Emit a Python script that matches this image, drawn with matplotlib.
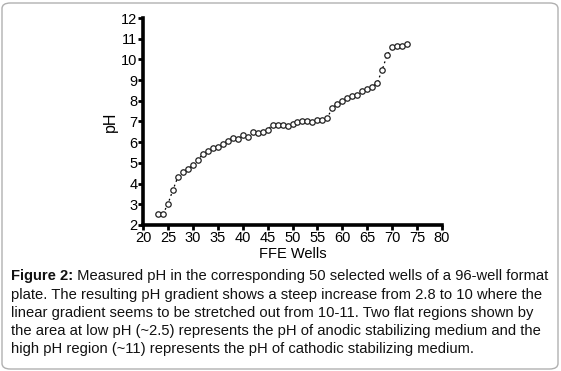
import numpy as np
import matplotlib
matplotlib.use("Agg")
import matplotlib.pyplot as plt
from matplotlib.patches import FancyBboxPatch

# FFE well numbers and measured pH
wells = list(range(23, 74))
ph = [2.52, 2.52, 3.02, 3.69, 4.32, 4.55, 4.71, 4.90, 5.14, 5.42,
      5.58, 5.71, 5.79, 5.92, 6.08, 6.21, 6.16, 6.35, 6.26, 6.51,
      6.45, 6.48, 6.60, 6.84, 6.85, 6.82, 6.79, 6.87, 6.97, 7.02,
      7.00, 6.98, 7.05, 7.08, 7.19, 7.65, 7.85, 8.00, 8.13, 8.21,
      8.29, 8.45, 8.56, 8.69, 8.86, 9.50, 10.22, 10.60, 10.66, 10.67,
      10.74]

x_ticks = list(range(20, 81, 5))
y_ticks = list(range(2, 13))

caption_head = "Figure 2:"
caption_first = " Measured pH in the corresponding 50 selected wells of a 96-well format"
caption_rest = ("plate. The resulting pH gradient shows a steep increase from 2.8 to 10 where the\n"
                "linear gradient seems to be stretched out from 10-11. Two flat regions shown by\n"
                "the area at low pH (~2.5) represents the pH of anodic stabilizing medium and the\n"
                "high pH region (~11) represents the pH of cathodic stabilizing medium.")

plt.rcParams['font.family'] = ['Liberation Sans', 'DejaVu Sans']

fig = plt.figure(figsize=(5.61, 3.71), dpi=100)
W, H = 561, 371
ax = fig.add_axes([143 / W, 1 - 225 / H, (442 - 143) / W, (225 - 18) / H])

ax.plot(wells, ph, linestyle=(0, (1.5, 2.5)), color='black', linewidth=0.9,
        marker='o', markersize=3.9, markerfacecolor='white',
        markeredgecolor='#222222', markeredgewidth=0.9)

ax.set_xlim(20, 80)
ax.set_ylim(2, 12)
ax.set_xticks(x_ticks)
ax.set_yticks(y_ticks)
for s in ['top', 'right']:
    ax.spines[s].set_visible(False)
for s in ['left', 'bottom']:
    ax.spines[s].set_linewidth(2.6)
ax.tick_params(axis='both', direction='out', length=3.5, width=2, labelsize=10.5, pad=0.5)
ax.set_xlabel('FFE Wells', fontsize=10.5, labelpad=2)
ax.set_ylabel('pH', fontsize=11.5, labelpad=2)

# caption below the chart
fs = 10.6
y0 = 1 - 269 / H
head = fig.text(11 / W, y0, caption_head, fontsize=fs, fontweight='bold',
                va='top', ha='left', color='#111111')
fig.canvas.draw()
bb = head.get_window_extent().transformed(fig.transFigure.inverted())
fig.text(bb.x1, y0, caption_first, fontsize=fs, va='top', ha='left', color='#111111')
fig.text(11 / W, y0 - 19 / H, caption_rest, fontsize=fs, va='top', ha='left',
         linespacing=1.36, color='#111111')

border = FancyBboxPatch((2 / W, 2 / H), (W - 5) / W, (H - 5) / H,
                        boxstyle='round,pad=0,rounding_size=0.015',
                        transform=fig.transFigure, facecolor='none',
                        edgecolor='#b0b0b0', linewidth=1.0)
fig.patches.append(border)

fig.savefig('out.png', dpi=100)
